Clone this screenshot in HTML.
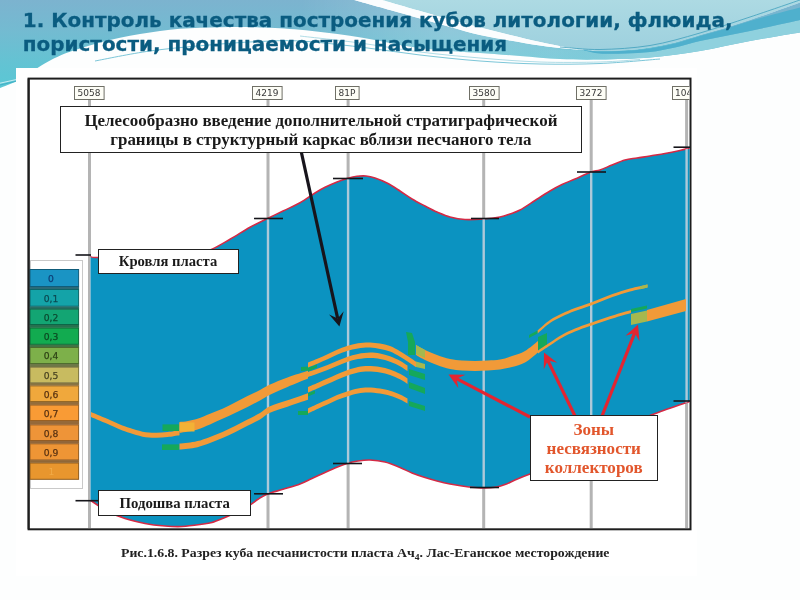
<!DOCTYPE html>
<html lang="ru">
<head>
<meta charset="utf-8">
<title>1. Контроль качества построения кубов литологии, флюида, пористости, проницаемости и насыщения</title>
<style>
html,body{margin:0;padding:0;}
body{width:800px;height:600px;overflow:hidden;background:#fdfefe;position:relative;font-family:"Liberation Sans",sans-serif;}
#bg{position:absolute;left:0;top:0;width:800px;height:600px;}
#title{position:absolute;left:22.8px;top:8px;margin:0;font:bold 19.96px/24px "DejaVu Sans","Liberation Sans",sans-serif;color:#0a5c80;white-space:nowrap;-webkit-text-stroke:0.3px #0a5c80;}
#panel{position:absolute;left:16px;top:68px;width:681px;height:508px;background:#fff;}
#chart{position:absolute;left:0;top:0;width:800px;height:600px;}
.lbl{position:absolute;box-sizing:border-box;background:#fff;border:1px solid #222;font-family:"Liberation Serif",serif;font-weight:bold;color:#1a1a1a;text-align:center;white-space:nowrap;}
#note{left:60px;top:106px;width:522px;height:47px;font-size:16.2px;line-height:18.9px;padding-top:5.1px;}
.lbl span{display:inline-block;transform:scaleX(1.047);transform-origin:center;}
#roof{left:98px;top:249px;width:141px;height:25px;font-size:14px;line-height:24px;}
#floor{left:98px;top:490px;width:153px;height:26px;font-size:14.1px;line-height:25px;}
#zones{left:530px;top:415px;width:128px;height:66px;font-size:16.3px;line-height:19px;padding-top:4px;color:#e2562c;}
#caption{position:absolute;left:121px;top:544.5px;margin:0;font:bold 13px/16px "Liberation Serif",serif;color:#222;white-space:nowrap;transform:scaleX(1.06);transform-origin:left center;}
#caption sub{font-size:9px;vertical-align:-3px;line-height:0;}
</style>
</head>
<body>
<svg id="bg" width="800" height="600" viewBox="0 0 800 600">
  <defs>
    <linearGradient id="gA" gradientUnits="userSpaceOnUse" x1="0" y1="0" x2="0" y2="90">
      <stop offset="0" stop-color="#7cb3cf"/>
      <stop offset="0.35" stop-color="#73bbd1"/>
      <stop offset="0.7" stop-color="#63c3d3"/>
      <stop offset="1" stop-color="#59c8d5"/>
    </linearGradient>
    <linearGradient id="gD" gradientUnits="userSpaceOnUse" x1="530" y1="0" x2="640" y2="0">
      <stop offset="0" stop-color="#8fd1de" stop-opacity="0"/>
      <stop offset="1" stop-color="#8fd1de" stop-opacity="1"/>
    </linearGradient>
    <linearGradient id="gC" gradientUnits="userSpaceOnUse" x1="300" y1="0" x2="600" y2="0">
      <stop offset="0" stop-color="#ffffff" stop-opacity="0"/>
      <stop offset="0.5" stop-color="#ffffff" stop-opacity="0.2"/>
      <stop offset="0.85" stop-color="#ffffff" stop-opacity="0.15"/>
      <stop offset="1" stop-color="#ffffff" stop-opacity="0"/>
    </linearGradient>
    <linearGradient id="gB" gradientUnits="userSpaceOnUse" x1="0" y1="0" x2="0" y2="52">
      <stop offset="0" stop-color="#addae3"/>
      <stop offset="1" stop-color="#9dd0de"/>
    </linearGradient>
  </defs>
  <rect width="800" height="600" fill="#fdfefe"/>
<path d="M382.0,0.0 C388.3,1.8 408.7,7.8 420.0,11.0 C431.3,14.2 440.0,16.8 450.0,19.5 C460.0,22.2 470.0,24.9 480.0,27.5 C490.0,30.1 500.0,32.6 510.0,35.0 C520.0,37.4 530.8,40.0 540.0,42.0 C549.2,44.0 557.7,45.7 565.0,47.0 C572.3,48.3 580.8,49.5 584.0,50.0  L584.0,50.0 C586.7,50.2 593.2,51.0 600.0,51.0 C606.8,51.0 616.7,50.9 625.0,50.3 C633.3,49.7 641.7,48.8 650.0,47.5 C658.3,46.2 666.7,44.6 675.0,42.5 C683.3,40.4 691.7,37.4 700.0,35.0 C708.3,32.6 716.7,30.5 725.0,28.0 C733.3,25.5 741.7,22.8 750.0,20.0 C758.3,17.2 766.7,14.4 775.0,11.5 C783.3,8.6 795.8,4.0 800.0,2.5 L800,0 Z" fill="url(#gB)"/>
<path d="M0,0 L354,0  L354.0,0.0 C360.0,1.7 379.0,6.9 390.0,10.0 C401.0,13.1 410.0,15.7 420.0,18.5 C430.0,21.3 440.0,24.2 450.0,27.0 C460.0,29.8 470.0,32.8 480.0,35.0 C490.0,37.2 500.0,38.8 510.0,40.5 C520.0,42.2 530.8,44.2 540.0,45.5 C549.2,46.8 557.7,47.8 565.0,48.5 C572.3,49.2 580.8,49.8 584.0,50.0  L584.0,50.0 C586.7,50.2 593.2,51.0 600.0,51.0 C606.8,51.0 616.7,50.9 625.0,50.3 C633.3,49.7 641.7,48.8 650.0,47.5 C658.3,46.2 666.7,44.6 675.0,42.5 C683.3,40.4 691.7,37.4 700.0,35.0 C708.3,32.6 716.7,30.5 725.0,28.0 C733.3,25.5 741.7,22.8 750.0,20.0 C758.3,17.2 766.7,14.4 775.0,11.5 C783.3,8.6 795.8,4.0 800.0,2.5 L800,32.5  L800.0,32.5 C791.7,33.9 766.7,37.9 750.0,41.0 C733.3,44.1 716.7,48.2 700.0,51.0 C683.3,53.8 666.7,56.1 650.0,57.5 C633.3,58.9 615.0,59.2 600.0,59.5 C585.0,59.8 573.3,59.6 560.0,59.0 C546.7,58.4 533.3,57.0 520.0,56.0 C506.7,55.0 491.7,53.8 480.0,53.0 C468.3,52.2 459.2,51.8 450.0,51.0 C440.8,50.2 433.3,49.5 425.0,48.5 C416.7,47.5 408.3,46.4 400.0,45.0 C391.7,43.6 383.3,41.5 375.0,40.0 C366.7,38.5 358.3,37.0 350.0,35.8 C341.7,34.5 333.3,33.5 325.0,32.5 C316.7,31.5 307.5,30.5 300.0,29.8 C292.5,29.1 286.7,28.6 280.0,28.2 C273.3,27.8 266.7,27.6 260.0,27.4 C253.3,27.2 246.7,27.0 240.0,27.0 C233.3,27.0 226.7,27.2 220.0,27.3 C213.3,27.4 206.7,27.6 200.0,27.8 C193.3,28.1 186.7,28.3 180.0,28.8 C173.3,29.3 166.7,30.1 160.0,31.0 C153.3,31.9 146.7,32.9 140.0,34.0 C133.3,35.1 126.7,36.4 120.0,37.8 C113.3,39.2 106.7,40.7 100.0,42.5 C93.3,44.3 85.8,46.7 80.0,48.5 C74.2,50.3 69.8,51.6 65.0,53.5 C60.2,55.4 55.3,57.8 51.0,60.0 C46.7,62.2 42.5,64.8 39.0,67.0 C35.5,69.2 33.7,70.7 30.0,73.0 C26.3,75.3 22.0,78.5 17.0,81.0 C12.0,83.5 2.8,86.8 0.0,88.0 Z" fill="url(#gA)"/>
<path d="M0,0 L354,0  L354.0,0.0 C360.0,1.7 379.0,6.9 390.0,10.0 C401.0,13.1 410.0,15.7 420.0,18.5 C430.0,21.3 440.0,24.2 450.0,27.0 C460.0,29.8 470.0,32.8 480.0,35.0 C490.0,37.2 500.0,38.8 510.0,40.5 C520.0,42.2 530.8,44.2 540.0,45.5 C549.2,46.8 557.7,47.8 565.0,48.5 C572.3,49.2 580.8,49.8 584.0,50.0  L584.0,50.0 C586.7,50.2 593.2,51.0 600.0,51.0 C606.8,51.0 616.7,50.9 625.0,50.3 C633.3,49.7 641.7,48.8 650.0,47.5 C658.3,46.2 666.7,44.6 675.0,42.5 C683.3,40.4 691.7,37.4 700.0,35.0 C708.3,32.6 716.7,30.5 725.0,28.0 C733.3,25.5 741.7,22.8 750.0,20.0 C758.3,17.2 766.7,14.4 775.0,11.5 C783.3,8.6 795.8,4.0 800.0,2.5 L800,32.5  L800.0,32.5 C791.7,33.9 766.7,37.9 750.0,41.0 C733.3,44.1 716.7,48.2 700.0,51.0 C683.3,53.8 666.7,56.1 650.0,57.5 C633.3,58.9 615.0,59.2 600.0,59.5 C585.0,59.8 573.3,59.6 560.0,59.0 C546.7,58.4 533.3,57.0 520.0,56.0 C506.7,55.0 491.7,53.8 480.0,53.0 C468.3,52.2 459.2,51.8 450.0,51.0 C440.8,50.2 433.3,49.5 425.0,48.5 C416.7,47.5 408.3,46.4 400.0,45.0 C391.7,43.6 383.3,41.5 375.0,40.0 C366.7,38.5 358.3,37.0 350.0,35.8 C341.7,34.5 333.3,33.5 325.0,32.5 C316.7,31.5 307.5,30.5 300.0,29.8 C292.5,29.1 286.7,28.6 280.0,28.2 C273.3,27.8 266.7,27.6 260.0,27.4 C253.3,27.2 246.7,27.0 240.0,27.0 C233.3,27.0 226.7,27.2 220.0,27.3 C213.3,27.4 206.7,27.6 200.0,27.8 C193.3,28.1 186.7,28.3 180.0,28.8 C173.3,29.3 166.7,30.1 160.0,31.0 C153.3,31.9 146.7,32.9 140.0,34.0 C133.3,35.1 126.7,36.4 120.0,37.8 C113.3,39.2 106.7,40.7 100.0,42.5 C93.3,44.3 85.8,46.7 80.0,48.5 C74.2,50.3 69.8,51.6 65.0,53.5 C60.2,55.4 55.3,57.8 51.0,60.0 C46.7,62.2 42.5,64.8 39.0,67.0 C35.5,69.2 33.7,70.7 30.0,73.0 C26.3,75.3 22.0,78.5 17.0,81.0 C12.0,83.5 2.8,86.8 0.0,88.0 Z" fill="url(#gC)"/>
<path d="M520.0,50.0 C526.7,50.0 549.3,49.9 560.0,50.0 C570.7,50.1 577.3,49.9 584.0,50.5 C590.7,51.1 593.2,53.0 600.0,53.5 C606.8,54.0 616.7,53.8 625.0,53.5 C633.3,53.2 641.7,53.0 650.0,52.0 C658.3,51.0 666.7,49.3 675.0,47.5 C683.3,45.7 691.7,42.9 700.0,41.0 C708.3,39.1 716.7,37.7 725.0,36.0 C733.3,34.3 741.7,32.8 750.0,31.0 C758.3,29.2 766.7,27.3 775.0,25.5 C783.3,23.7 795.8,20.9 800.0,20.0  L800.0,32.5 C791.7,33.9 766.7,37.9 750.0,41.0 C733.3,44.1 716.7,48.2 700.0,51.0 C683.3,53.8 666.7,56.1 650.0,57.5 C633.3,58.9 615.0,59.2 600.0,59.5 C585.0,59.8 573.3,59.6 560.0,59.0 C546.7,58.4 526.7,56.5 520.0,56.0 Z" fill="url(#gD)"/>
<path d="M584.0,50.0 C586.7,50.2 593.2,51.4 600.0,51.5 C606.8,51.6 616.7,51.3 625.0,50.8 C633.3,50.3 641.7,49.7 650.0,48.5 C658.3,47.3 666.7,45.6 675.0,43.5 C683.3,41.4 691.7,38.4 700.0,36.0 C708.3,33.6 716.7,31.5 725.0,29.0 C733.3,26.5 741.7,23.5 750.0,21.0 C758.3,18.5 766.7,16.2 775.0,14.0 C783.3,11.8 795.8,8.6 800.0,7.5  L800.0,20.0 C795.8,20.9 783.3,23.7 775.0,25.5 C766.7,27.3 758.3,29.2 750.0,31.0 C741.7,32.8 733.3,34.3 725.0,36.0 C716.7,37.7 708.3,39.1 700.0,41.0 C691.7,42.9 683.3,45.7 675.0,47.5 C666.7,49.3 658.3,51.0 650.0,52.0 C641.7,53.0 633.3,53.2 625.0,53.5 C616.7,53.8 606.8,54.0 600.0,53.5 C593.2,53.0 586.7,51.0 584.0,50.5 Z" fill="#4fb0cd"/>
<path d="M382.0,0.0 C388.3,1.8 408.7,7.8 420.0,11.0 C431.3,14.2 440.0,16.8 450.0,19.5 C460.0,22.2 470.0,24.9 480.0,27.5 C490.0,30.1 500.0,32.6 510.0,35.0 C520.0,37.4 530.8,40.0 540.0,42.0 C549.2,44.0 557.7,45.7 565.0,47.0 C572.3,48.3 580.8,49.5 584.0,50.0  L584.0,50.0 C580.8,49.8 572.3,49.2 565.0,48.5 C557.7,47.8 549.2,46.8 540.0,45.5 C530.8,44.2 520.0,42.2 510.0,40.5 C500.0,38.8 490.0,37.2 480.0,35.0 C470.0,32.8 460.0,29.8 450.0,27.0 C440.0,24.2 430.0,21.3 420.0,18.5 C410.0,15.7 401.0,13.1 390.0,10.0 C379.0,6.9 360.0,1.7 354.0,0.0 Z" fill="#fbfdfe"/>
<path d="M95.0,61.0 C104.2,59.3 130.0,53.8 150.0,51.0 C170.0,48.2 196.7,46.1 215.0,44.5 C233.3,42.9 245.8,42.1 260.0,41.5 C274.2,40.9 283.3,40.1 300.0,41.0 C316.7,41.9 340.0,44.7 360.0,47.0 C380.0,49.3 400.0,52.7 420.0,55.0 C440.0,57.3 460.0,59.5 480.0,61.0 C500.0,62.5 520.0,63.6 540.0,64.0 C560.0,64.4 580.0,64.3 600.0,63.5 C620.0,62.7 650.0,59.8 660.0,59.0" fill="none" stroke="#7cc6d8" stroke-width="1"/>
<path d="M300.0,36.0 C310.0,37.2 340.0,40.3 360.0,43.0 C380.0,45.7 400.0,49.5 420.0,52.0 C440.0,54.5 460.0,56.3 480.0,58.0 C500.0,59.7 520.0,61.3 540.0,62.0 C560.0,62.7 583.3,62.4 600.0,62.0 C616.7,61.6 633.3,59.9 640.0,59.5" fill="none" stroke="#9ad3e0" stroke-width="0.8"/>
<path d="M560.0,47.0 C566.7,47.4 585.0,49.8 600.0,49.5 C615.0,49.2 633.3,48.2 650.0,45.5 C666.7,42.8 683.3,37.8 700.0,33.0 C716.7,28.2 733.3,22.5 750.0,17.0 C766.7,11.5 791.7,2.8 800.0,0.0" fill="none" stroke="#3f9fbd" stroke-width="0.8"/>
<path d="M0,85 L16,81.3" fill="none" stroke="#3aa9c2" stroke-width="0.8"/>
<path d="M0,83.2 L16,79.6" fill="none" stroke="#e8f7fa" stroke-width="0.9" opacity="0.85"/>
</svg>
<h1 id="title">1. Контроль качества построения кубов литологии, флюида,<br>пористости, проницаемости и насыщения</h1>
<div id="panel"></div>
<svg id="chart" width="800" height="600" viewBox="0 0 800 600">
<rect x="28.6" y="78.6" width="661.9" height="450.7" fill="#fff" stroke="#1e1e1e" stroke-width="2"/>
<clipPath id="fc"><rect x="29.6" y="79.6" width="659.9" height="448.7"/></clipPath>
<g clip-path="url(#fc)">
<rect x="88.0" y="92" width="3" height="436" fill="#b4b4b4"/>
<rect x="266.5" y="92" width="3" height="436" fill="#b4b4b4"/>
<rect x="346.6" y="92" width="3" height="436" fill="#b4b4b4"/>
<rect x="482.2" y="92" width="3" height="436" fill="#b4b4b4"/>
<rect x="589.7" y="92" width="3" height="436" fill="#b4b4b4"/>
<rect x="685.1" y="92" width="3" height="436" fill="#b4b4b4"/>
<path d="M90.0,256.0 C91.3,256.2 88.0,257.5 98.0,257.5 C108.0,257.5 133.8,256.9 150.0,256.0 C166.2,255.1 185.0,253.0 195.0,252.0 C205.0,251.0 204.2,252.1 210.0,250.0 C215.8,247.9 223.3,243.1 230.0,239.3 C236.7,235.5 243.8,230.6 250.0,227.2 C256.2,223.8 261.5,221.5 267.0,218.8 C272.5,216.1 277.5,213.7 283.0,211.0 C288.5,208.3 294.7,205.8 300.0,202.8 C305.3,199.8 310.8,195.6 315.0,193.0 C319.2,190.4 321.3,189.1 325.0,187.3 C328.7,185.5 333.3,183.5 337.0,182.0 C340.7,180.5 343.7,179.4 347.0,178.5 C350.3,177.6 353.8,176.7 357.0,176.3 C360.2,175.9 363.0,175.7 366.0,176.0 C369.0,176.3 371.5,176.8 375.0,178.0 C378.5,179.2 382.8,180.8 387.0,183.0 C391.2,185.2 395.8,188.3 400.0,191.0 C404.2,193.7 407.8,196.5 412.0,199.0 C416.2,201.5 420.8,203.8 425.0,206.0 C429.2,208.2 432.8,210.2 437.0,212.0 C441.2,213.8 445.3,215.8 450.0,217.0 C454.7,218.2 459.5,219.2 465.0,219.5 C470.5,219.8 477.2,219.4 483.0,219.0 C488.8,218.6 495.5,217.8 500.0,217.0 C504.5,216.2 506.7,215.2 510.0,214.0 C513.3,212.8 515.8,212.2 520.0,210.0 C524.2,207.8 530.0,203.7 535.0,200.5 C540.0,197.3 545.5,193.7 550.0,191.0 C554.5,188.3 557.8,186.5 562.0,184.5 C566.2,182.5 570.2,181.1 575.0,179.0 C579.8,176.9 586.8,173.5 591.0,172.0 C595.2,170.5 596.5,171.2 600.0,170.0 C603.5,168.8 607.8,166.7 612.0,165.0 C616.2,163.3 620.8,161.2 625.0,160.0 C629.2,158.8 632.8,158.7 637.0,158.0 C641.2,157.3 645.3,156.8 650.0,156.0 C654.7,155.2 660.0,154.4 665.0,153.5 C670.0,152.6 675.8,151.4 680.0,150.5 C684.2,149.6 688.3,148.4 690.0,148.0 L690.0,401.5 C689.2,401.8 687.5,402.2 685.0,403.0 C682.5,403.8 678.8,405.2 675.0,406.5 C671.2,407.8 666.2,409.5 662.0,411.0 C657.8,412.5 653.7,413.9 650.0,415.5 C646.3,417.1 645.0,417.9 640.0,420.5 C635.0,423.1 626.7,427.2 620.0,431.0 C613.3,434.8 606.7,439.2 600.0,443.0 C593.3,446.8 586.7,450.6 580.0,454.0 C573.3,457.4 565.8,460.9 560.0,463.5 C554.2,466.1 550.0,467.8 545.0,469.5 C540.0,471.2 535.0,472.2 530.0,474.0 C525.0,475.8 519.2,478.2 515.0,480.0 C510.8,481.8 508.3,483.3 505.0,484.5 C501.7,485.7 498.3,486.7 495.0,487.3 C491.7,487.9 488.3,488.0 485.0,488.0 C481.7,488.0 478.8,487.8 475.0,487.5 C471.2,487.2 466.2,486.6 462.0,486.0 C457.8,485.4 454.2,484.8 450.0,484.0 C445.8,483.2 441.2,482.1 437.0,481.0 C432.8,479.9 429.2,478.8 425.0,477.5 C420.8,476.2 416.2,474.7 412.0,473.0 C407.8,471.3 404.5,469.3 400.0,467.5 C395.5,465.7 390.0,463.2 385.0,462.0 C380.0,460.8 374.5,460.2 370.0,460.0 C365.5,459.8 361.8,460.4 358.0,461.0 C354.2,461.6 350.8,462.3 347.0,463.5 C343.2,464.7 338.7,466.5 335.0,468.0 C331.3,469.5 328.8,470.8 325.0,472.5 C321.2,474.2 316.2,476.6 312.0,478.5 C307.8,480.4 304.8,482.2 300.0,484.0 C295.2,485.8 288.4,487.6 283.0,489.3 C277.6,491.0 271.7,492.3 267.5,494.0 C263.3,495.7 260.9,497.5 258.0,499.3 C255.1,501.1 253.5,502.9 250.0,505.0 C246.5,507.1 241.2,509.9 237.0,512.0 C232.8,514.1 229.2,515.8 225.0,517.5 C220.8,519.2 216.2,521.3 212.0,522.5 C207.8,523.7 205.0,523.8 200.0,524.5 C195.0,525.2 187.8,526.2 182.0,526.5 C176.2,526.8 171.2,526.5 165.0,526.0 C158.8,525.5 151.7,524.8 145.0,523.5 C138.3,522.2 131.3,520.6 125.0,518.5 C118.7,516.4 112.8,514.1 107.0,511.0 C101.2,507.9 92.8,501.8 90.0,500.0 Z" fill="#0b93c1"/>
<path d="M90.0,256.0 C91.3,256.2 88.0,257.5 98.0,257.5 C108.0,257.5 133.8,256.9 150.0,256.0 C166.2,255.1 185.0,253.0 195.0,252.0 C205.0,251.0 204.2,252.1 210.0,250.0 C215.8,247.9 223.3,243.1 230.0,239.3 C236.7,235.5 243.8,230.6 250.0,227.2 C256.2,223.8 261.5,221.5 267.0,218.8 C272.5,216.1 277.5,213.7 283.0,211.0 C288.5,208.3 294.7,205.8 300.0,202.8 C305.3,199.8 310.8,195.6 315.0,193.0 C319.2,190.4 321.3,189.1 325.0,187.3 C328.7,185.5 333.3,183.5 337.0,182.0 C340.7,180.5 343.7,179.4 347.0,178.5 C350.3,177.6 353.8,176.7 357.0,176.3 C360.2,175.9 363.0,175.7 366.0,176.0 C369.0,176.3 371.5,176.8 375.0,178.0 C378.5,179.2 382.8,180.8 387.0,183.0 C391.2,185.2 395.8,188.3 400.0,191.0 C404.2,193.7 407.8,196.5 412.0,199.0 C416.2,201.5 420.8,203.8 425.0,206.0 C429.2,208.2 432.8,210.2 437.0,212.0 C441.2,213.8 445.3,215.8 450.0,217.0 C454.7,218.2 459.5,219.2 465.0,219.5 C470.5,219.8 477.2,219.4 483.0,219.0 C488.8,218.6 495.5,217.8 500.0,217.0 C504.5,216.2 506.7,215.2 510.0,214.0 C513.3,212.8 515.8,212.2 520.0,210.0 C524.2,207.8 530.0,203.7 535.0,200.5 C540.0,197.3 545.5,193.7 550.0,191.0 C554.5,188.3 557.8,186.5 562.0,184.5 C566.2,182.5 570.2,181.1 575.0,179.0 C579.8,176.9 586.8,173.5 591.0,172.0 C595.2,170.5 596.5,171.2 600.0,170.0 C603.5,168.8 607.8,166.7 612.0,165.0 C616.2,163.3 620.8,161.2 625.0,160.0 C629.2,158.8 632.8,158.7 637.0,158.0 C641.2,157.3 645.3,156.8 650.0,156.0 C654.7,155.2 660.0,154.4 665.0,153.5 C670.0,152.6 675.8,151.4 680.0,150.5 C684.2,149.6 688.3,148.4 690.0,148.0" fill="none" stroke="#d42a45" stroke-width="1.6"/>
<path d="M690.0,401.5 C689.2,401.8 687.5,402.2 685.0,403.0 C682.5,403.8 678.8,405.2 675.0,406.5 C671.2,407.8 666.2,409.5 662.0,411.0 C657.8,412.5 653.7,413.9 650.0,415.5 C646.3,417.1 645.0,417.9 640.0,420.5 C635.0,423.1 626.7,427.2 620.0,431.0 C613.3,434.8 606.7,439.2 600.0,443.0 C593.3,446.8 586.7,450.6 580.0,454.0 C573.3,457.4 565.8,460.9 560.0,463.5 C554.2,466.1 550.0,467.8 545.0,469.5 C540.0,471.2 535.0,472.2 530.0,474.0 C525.0,475.8 519.2,478.2 515.0,480.0 C510.8,481.8 508.3,483.3 505.0,484.5 C501.7,485.7 498.3,486.7 495.0,487.3 C491.7,487.9 488.3,488.0 485.0,488.0 C481.7,488.0 478.8,487.8 475.0,487.5 C471.2,487.2 466.2,486.6 462.0,486.0 C457.8,485.4 454.2,484.8 450.0,484.0 C445.8,483.2 441.2,482.1 437.0,481.0 C432.8,479.9 429.2,478.8 425.0,477.5 C420.8,476.2 416.2,474.7 412.0,473.0 C407.8,471.3 404.5,469.3 400.0,467.5 C395.5,465.7 390.0,463.2 385.0,462.0 C380.0,460.8 374.5,460.2 370.0,460.0 C365.5,459.8 361.8,460.4 358.0,461.0 C354.2,461.6 350.8,462.3 347.0,463.5 C343.2,464.7 338.7,466.5 335.0,468.0 C331.3,469.5 328.8,470.8 325.0,472.5 C321.2,474.2 316.2,476.6 312.0,478.5 C307.8,480.4 304.8,482.2 300.0,484.0 C295.2,485.8 288.4,487.6 283.0,489.3 C277.6,491.0 271.7,492.3 267.5,494.0 C263.3,495.7 260.9,497.5 258.0,499.3 C255.1,501.1 253.5,502.9 250.0,505.0 C246.5,507.1 241.2,509.9 237.0,512.0 C232.8,514.1 229.2,515.8 225.0,517.5 C220.8,519.2 216.2,521.3 212.0,522.5 C207.8,523.7 205.0,523.8 200.0,524.5 C195.0,525.2 187.8,526.2 182.0,526.5 C176.2,526.8 171.2,526.5 165.0,526.0 C158.8,525.5 151.7,524.8 145.0,523.5 C138.3,522.2 131.3,520.6 125.0,518.5 C118.7,516.4 112.8,514.1 107.0,511.0 C101.2,507.9 92.8,501.8 90.0,500.0" fill="none" stroke="#d42a45" stroke-width="1.6"/>
<clipPath id="bc"><path d="M90.0,256.0 C91.3,256.2 88.0,257.5 98.0,257.5 C108.0,257.5 133.8,256.9 150.0,256.0 C166.2,255.1 185.0,253.0 195.0,252.0 C205.0,251.0 204.2,252.1 210.0,250.0 C215.8,247.9 223.3,243.1 230.0,239.3 C236.7,235.5 243.8,230.6 250.0,227.2 C256.2,223.8 261.5,221.5 267.0,218.8 C272.5,216.1 277.5,213.7 283.0,211.0 C288.5,208.3 294.7,205.8 300.0,202.8 C305.3,199.8 310.8,195.6 315.0,193.0 C319.2,190.4 321.3,189.1 325.0,187.3 C328.7,185.5 333.3,183.5 337.0,182.0 C340.7,180.5 343.7,179.4 347.0,178.5 C350.3,177.6 353.8,176.7 357.0,176.3 C360.2,175.9 363.0,175.7 366.0,176.0 C369.0,176.3 371.5,176.8 375.0,178.0 C378.5,179.2 382.8,180.8 387.0,183.0 C391.2,185.2 395.8,188.3 400.0,191.0 C404.2,193.7 407.8,196.5 412.0,199.0 C416.2,201.5 420.8,203.8 425.0,206.0 C429.2,208.2 432.8,210.2 437.0,212.0 C441.2,213.8 445.3,215.8 450.0,217.0 C454.7,218.2 459.5,219.2 465.0,219.5 C470.5,219.8 477.2,219.4 483.0,219.0 C488.8,218.6 495.5,217.8 500.0,217.0 C504.5,216.2 506.7,215.2 510.0,214.0 C513.3,212.8 515.8,212.2 520.0,210.0 C524.2,207.8 530.0,203.7 535.0,200.5 C540.0,197.3 545.5,193.7 550.0,191.0 C554.5,188.3 557.8,186.5 562.0,184.5 C566.2,182.5 570.2,181.1 575.0,179.0 C579.8,176.9 586.8,173.5 591.0,172.0 C595.2,170.5 596.5,171.2 600.0,170.0 C603.5,168.8 607.8,166.7 612.0,165.0 C616.2,163.3 620.8,161.2 625.0,160.0 C629.2,158.8 632.8,158.7 637.0,158.0 C641.2,157.3 645.3,156.8 650.0,156.0 C654.7,155.2 660.0,154.4 665.0,153.5 C670.0,152.6 675.8,151.4 680.0,150.5 C684.2,149.6 688.3,148.4 690.0,148.0 L690.0,401.5 C689.2,401.8 687.5,402.2 685.0,403.0 C682.5,403.8 678.8,405.2 675.0,406.5 C671.2,407.8 666.2,409.5 662.0,411.0 C657.8,412.5 653.7,413.9 650.0,415.5 C646.3,417.1 645.0,417.9 640.0,420.5 C635.0,423.1 626.7,427.2 620.0,431.0 C613.3,434.8 606.7,439.2 600.0,443.0 C593.3,446.8 586.7,450.6 580.0,454.0 C573.3,457.4 565.8,460.9 560.0,463.5 C554.2,466.1 550.0,467.8 545.0,469.5 C540.0,471.2 535.0,472.2 530.0,474.0 C525.0,475.8 519.2,478.2 515.0,480.0 C510.8,481.8 508.3,483.3 505.0,484.5 C501.7,485.7 498.3,486.7 495.0,487.3 C491.7,487.9 488.3,488.0 485.0,488.0 C481.7,488.0 478.8,487.8 475.0,487.5 C471.2,487.2 466.2,486.6 462.0,486.0 C457.8,485.4 454.2,484.8 450.0,484.0 C445.8,483.2 441.2,482.1 437.0,481.0 C432.8,479.9 429.2,478.8 425.0,477.5 C420.8,476.2 416.2,474.7 412.0,473.0 C407.8,471.3 404.5,469.3 400.0,467.5 C395.5,465.7 390.0,463.2 385.0,462.0 C380.0,460.8 374.5,460.2 370.0,460.0 C365.5,459.8 361.8,460.4 358.0,461.0 C354.2,461.6 350.8,462.3 347.0,463.5 C343.2,464.7 338.7,466.5 335.0,468.0 C331.3,469.5 328.8,470.8 325.0,472.5 C321.2,474.2 316.2,476.6 312.0,478.5 C307.8,480.4 304.8,482.2 300.0,484.0 C295.2,485.8 288.4,487.6 283.0,489.3 C277.6,491.0 271.7,492.3 267.5,494.0 C263.3,495.7 260.9,497.5 258.0,499.3 C255.1,501.1 253.5,502.9 250.0,505.0 C246.5,507.1 241.2,509.9 237.0,512.0 C232.8,514.1 229.2,515.8 225.0,517.5 C220.8,519.2 216.2,521.3 212.0,522.5 C207.8,523.7 205.0,523.8 200.0,524.5 C195.0,525.2 187.8,526.2 182.0,526.5 C176.2,526.8 171.2,526.5 165.0,526.0 C158.8,525.5 151.7,524.8 145.0,523.5 C138.3,522.2 131.3,520.6 125.0,518.5 C118.7,516.4 112.8,514.1 107.0,511.0 C101.2,507.9 92.8,501.8 90.0,500.0 Z"/></clipPath>
<g clip-path="url(#bc)">
<rect x="88.3" y="92" width="2.4" height="436" fill="#adc9d9"/>
<rect x="266.8" y="92" width="2.4" height="436" fill="#adc9d9"/>
<rect x="346.9" y="92" width="2.4" height="436" fill="#adc9d9"/>
<rect x="482.5" y="92" width="2.4" height="436" fill="#adc9d9"/>
<rect x="590.0" y="92" width="2.4" height="436" fill="#adc9d9"/>
<rect x="685.4" y="92" width="2.4" height="436" fill="#adc9d9"/>
</g>
<g id="bands">
<path d="M91.0,412.0 C92.5,412.6 96.7,414.4 100.0,415.8 C103.3,417.2 107.7,419.1 111.0,420.5 C114.3,421.9 116.8,423.2 120.0,424.5 C123.2,425.8 126.2,426.9 130.0,428.1 C133.8,429.3 138.3,430.9 142.5,431.7 C146.7,432.5 150.8,432.7 155.0,432.8 C159.2,432.9 163.4,432.5 167.5,432.1 C171.6,431.7 177.5,430.6 179.5,430.3 L179.5,435.3 C177.5,435.6 171.6,436.7 167.5,437.1 C163.4,437.5 159.2,437.9 155.0,437.8 C150.8,437.7 146.7,437.5 142.5,436.7 C138.3,435.9 133.8,434.3 130.0,433.1 C126.2,431.9 123.2,430.8 120.0,429.5 C116.8,428.2 114.3,426.9 111.0,425.5 C107.7,424.1 103.3,422.2 100.0,420.8 C96.7,419.4 92.5,417.6 91.0,417.0 Z" fill="#f19a38"/>
<path d="M179.5,422.0 C180.9,421.8 185.0,421.6 188.0,421.0 C191.0,420.4 193.8,419.9 197.5,418.7 C201.2,417.5 205.8,415.4 210.0,413.7 C214.2,412.0 218.3,410.6 222.5,408.7 C226.7,406.8 230.8,404.6 235.0,402.5 C239.2,400.4 243.3,398.1 247.5,396.0 C251.7,393.9 256.2,391.9 260.0,390.0 C263.8,388.1 265.4,386.7 270.0,384.6 C274.6,382.5 281.2,379.8 287.5,377.5 C293.8,375.2 304.6,371.9 308.0,370.8 L308.0,378.6 C304.6,380.0 293.8,384.3 287.5,387.0 C281.2,389.7 274.6,392.6 270.0,394.8 C265.4,397.1 263.8,398.5 260.0,400.5 C256.2,402.5 251.7,404.9 247.5,407.0 C243.3,409.1 239.2,411.0 235.0,413.0 C230.8,415.0 226.7,416.9 222.5,418.8 C218.3,420.7 214.2,422.6 210.0,424.4 C205.8,426.2 201.2,428.2 197.5,429.4 C193.8,430.6 191.0,431.0 188.0,431.6 C185.0,432.2 180.9,432.8 179.5,433.0 Z" fill="#f19a38"/>
<rect x="179.5" y="422.5" width="15" height="9" fill="#f2b236"/>
<rect x="162.5" y="424.4" width="16.5" height="6.6" fill="#15a85a"/>
<path d="M179.5,443.6 C180.9,443.5 185.0,443.2 188.0,442.8 C191.0,442.4 193.8,442.1 197.5,441.1 C201.2,440.2 205.8,438.5 210.0,436.9 C214.2,435.4 218.3,433.7 222.5,431.9 C226.7,430.1 230.8,428.1 235.0,426.1 C239.2,424.0 243.3,421.7 247.5,419.6 C251.7,417.4 256.2,415.2 260.0,413.0 C263.8,410.8 265.4,408.4 270.0,406.3 C274.6,404.2 281.2,402.4 287.5,400.3 C293.8,398.1 304.6,394.4 308.0,393.2 L308.0,399.8 C304.6,400.9 293.8,404.6 287.5,406.7 C281.2,408.9 274.6,410.6 270.0,412.7 C265.4,414.8 263.8,417.2 260.0,419.4 C256.2,421.6 251.7,423.7 247.5,425.8 C243.3,428.0 239.2,430.3 235.0,432.3 C230.8,434.4 226.7,436.3 222.5,438.1 C218.3,439.9 214.2,441.6 210.0,443.1 C205.8,444.6 201.2,446.3 197.5,447.2 C193.8,448.2 191.0,448.4 188.0,448.8 C185.0,449.2 180.9,449.5 179.5,449.6 Z" fill="#f19a38"/>
<rect x="162" y="444.4" width="17" height="5.6" fill="#15a85a"/>
<path d="M308.0,362.6 C309.7,361.9 314.8,359.9 318.0,358.6 C321.2,357.2 324.3,355.8 327.5,354.3 C330.7,352.9 333.8,351.2 337.0,349.8 C340.2,348.4 343.5,346.9 347.0,345.9 C350.5,344.8 354.2,343.8 358.0,343.2 C361.8,342.6 366.3,342.3 370.0,342.4 C373.7,342.5 376.7,343.0 380.0,343.6 C383.3,344.3 386.7,344.8 390.0,346.1 C393.3,347.4 397.0,349.6 400.0,351.3 C403.0,353.0 405.3,354.5 408.0,356.2 C410.7,358.0 414.7,360.8 416.0,361.7 L416.0,367.3 C414.7,366.4 410.7,363.5 408.0,361.8 C405.3,360.0 403.0,358.4 400.0,356.7 C397.0,355.0 393.3,352.8 390.0,351.5 C386.7,350.2 383.3,349.6 380.0,349.0 C376.7,348.3 373.7,347.7 370.0,347.6 C366.3,347.5 361.8,347.8 358.0,348.4 C354.2,348.9 350.5,349.9 347.0,350.9 C343.5,352.0 340.2,353.4 337.0,354.8 C333.8,356.2 330.7,357.8 327.5,359.3 C324.3,360.7 321.2,362.1 318.0,363.4 C314.8,364.8 309.7,366.7 308.0,367.4 Z" fill="#f19a38"/>
<path d="M308.0,371.9 C309.7,371.3 314.8,369.6 318.0,368.4 C321.2,367.2 324.3,366.1 327.5,364.9 C330.7,363.6 333.8,362.2 337.0,360.9 C340.2,359.5 343.5,358.0 347.0,356.9 C350.5,355.7 354.2,354.6 358.0,353.9 C361.8,353.1 366.3,352.7 370.0,352.6 C373.7,352.6 376.7,353.0 380.0,353.6 C383.3,354.2 386.7,355.1 390.0,356.3 C393.3,357.5 397.1,359.3 400.0,360.8 C402.9,362.4 406.2,364.8 407.5,365.6 L407.5,371.0 C406.2,370.2 402.9,367.7 400.0,366.2 C397.1,364.6 393.3,362.9 390.0,361.7 C386.7,360.5 383.3,359.6 380.0,359.0 C376.7,358.4 373.7,357.9 370.0,358.0 C366.3,358.0 361.8,358.5 358.0,359.1 C354.2,359.8 350.5,361.0 347.0,362.1 C343.5,363.3 340.2,364.8 337.0,366.1 C333.8,367.5 330.7,368.9 327.5,370.1 C324.3,371.4 321.2,372.4 318.0,373.6 C314.8,374.8 309.7,376.5 308.0,377.1 Z" fill="#f19a38"/>
<path d="M308.0,387.0 C309.7,386.3 314.8,384.2 318.0,382.8 C321.2,381.4 324.3,380.0 327.5,378.6 C330.7,377.2 333.8,375.7 337.0,374.3 C340.2,372.9 343.5,371.5 347.0,370.3 C350.5,369.1 354.5,367.8 358.0,367.1 C361.5,366.4 364.3,366.1 368.0,366.1 C371.7,366.1 376.3,366.5 380.0,367.1 C383.7,367.7 386.7,368.4 390.0,369.5 C393.3,370.6 397.1,372.3 400.0,373.8 C402.9,375.3 406.2,377.7 407.5,378.5 L407.5,383.9 C406.2,383.1 402.9,380.7 400.0,379.2 C397.1,377.7 393.3,376.0 390.0,374.9 C386.7,373.8 383.7,373.1 380.0,372.5 C376.3,371.9 371.7,371.5 368.0,371.5 C364.3,371.5 361.5,371.8 358.0,372.5 C354.5,373.2 350.5,374.5 347.0,375.7 C343.5,376.9 340.2,378.3 337.0,379.7 C333.8,381.1 330.7,382.6 327.5,384.0 C324.3,385.4 321.2,386.8 318.0,388.2 C314.8,389.6 309.7,391.7 308.0,392.4 Z" fill="#f19a38"/>
<path d="M308.0,408.5 C309.7,407.7 314.8,405.3 318.0,403.8 C321.2,402.3 324.3,400.9 327.5,399.5 C330.7,398.1 333.8,396.4 337.0,395.1 C340.2,393.8 343.5,392.6 347.0,391.5 C350.5,390.4 354.5,389.2 358.0,388.5 C361.5,387.8 364.3,387.5 368.0,387.5 C371.7,387.5 376.3,388.0 380.0,388.5 C383.7,389.0 386.7,389.7 390.0,390.7 C393.3,391.7 397.1,393.2 400.0,394.5 C402.9,395.8 406.2,397.8 407.5,398.5 L407.5,403.5 C406.2,402.8 402.9,400.8 400.0,399.5 C397.1,398.2 393.3,396.7 390.0,395.7 C386.7,394.7 383.7,394.0 380.0,393.5 C376.3,393.0 371.7,392.5 368.0,392.5 C364.3,392.5 361.5,392.8 358.0,393.5 C354.5,394.2 350.5,395.4 347.0,396.5 C343.5,397.6 340.2,398.8 337.0,400.1 C333.8,401.4 330.7,403.1 327.5,404.5 C324.3,405.9 321.2,407.3 318.0,408.8 C314.8,410.3 309.7,412.7 308.0,413.5 Z" fill="#f19a38"/>
<polygon points="298.0,411.0 308.0,411.0 308.0,415.0 298.0,415.0" fill="#15a85a"/>
<polygon points="301.0,367.0 308.0,366.5 308.0,370.5 301.0,371.0" fill="#15a85a"/>
<polygon points="308.0,368.0 317.0,364.5 317.0,367.5 308.0,371.5" fill="#15a85a"/>
<polygon points="308.0,393.2 315.0,390.5 315.0,393.5 308.0,396.5" fill="#15a85a"/>
<polygon points="406.0,332.0 412.0,333.0 415.0,342.0 415.0,355.0 408.0,355.0 408.0,342.0" fill="#15a85a"/>
<polygon points="416.0,361.5 425.0,364.0 425.0,369.0 416.0,367.0" fill="#a6b84e"/>
<polygon points="409.0,369.0 425.0,374.0 425.0,380.0 409.0,375.0" fill="#15a85a"/>
<polygon points="409.0,382.0 425.0,388.0 425.0,394.0 409.0,388.0" fill="#15a85a"/>
<polygon points="409.0,401.0 425.0,406.0 425.0,411.0 409.0,406.0" fill="#15a85a"/>
<path d="M416.0,345.0 C417.5,345.8 421.5,348.3 425.0,350.0 C428.5,351.7 432.8,353.5 437.0,355.0 C441.2,356.5 445.8,358.1 450.0,359.0 C454.2,359.9 457.8,360.2 462.0,360.5 C466.2,360.8 470.7,361.0 475.0,361.0 C479.3,361.0 483.8,360.8 488.0,360.5 C492.2,360.2 496.0,360.2 500.0,359.5 C504.0,358.8 507.8,357.4 512.0,356.0 C516.2,354.6 520.7,353.5 525.0,351.0 C529.3,348.5 535.8,342.7 538.0,341.0 L538.0,352.5 C535.8,354.2 529.3,360.1 525.0,362.5 C520.7,364.9 516.2,365.8 512.0,367.0 C507.8,368.2 504.0,368.9 500.0,369.5 C496.0,370.1 492.2,370.2 488.0,370.5 C483.8,370.8 479.3,371.0 475.0,371.0 C470.7,371.0 466.2,370.8 462.0,370.5 C457.8,370.2 454.2,369.9 450.0,369.0 C445.8,368.1 441.2,366.5 437.0,365.0 C432.8,363.5 428.5,361.7 425.0,360.0 C421.5,358.3 417.5,355.8 416.0,355.0 Z" fill="#f19a38"/>
<polygon points="416.0,345.0 425.0,350.0 425.0,358.0 416.0,354.0" fill="#a6b84e"/>
<polygon points="538.0,337.0 547.0,333.0 547.0,346.0 538.0,350.0" fill="#15a85a"/>
<path d="M537.5,330.5 C539.6,328.8 545.9,322.8 550.0,320.0 C554.1,317.2 557.8,315.5 562.0,313.5 C566.2,311.5 570.2,309.8 575.0,308.0 C579.8,306.2 584.8,304.8 591.0,302.5 C597.2,300.2 606.0,296.3 612.5,294.0 C619.0,291.7 624.2,290.1 630.0,288.5 C635.8,286.9 644.6,285.2 647.5,284.5 L647.5,287.5 C644.6,288.2 635.8,289.9 630.0,291.5 C624.2,293.1 619.0,294.7 612.5,297.0 C606.0,299.3 597.2,303.2 591.0,305.5 C584.8,307.8 579.8,309.2 575.0,311.0 C570.2,312.8 566.2,314.5 562.0,316.5 C557.8,318.5 554.1,320.2 550.0,323.0 C545.9,325.8 539.6,331.8 537.5,333.5 Z" fill="#f19a38"/>
<polygon points="529.0,335.0 537.5,330.5 537.5,333.5 529.0,338.0" fill="#15a85a"/>
<polygon points="640.0,286.3 647.5,284.5 647.5,287.5 640.0,289.3" fill="#a6b84e"/>
<path d="M538.0,350.5 C540.0,349.2 545.9,345.2 550.0,342.5 C554.1,339.8 558.3,336.8 562.5,334.5 C566.7,332.2 570.4,330.4 575.0,328.5 C579.6,326.6 583.8,325.2 590.0,323.0 C596.2,320.8 605.7,317.7 612.5,315.5 C619.3,313.3 627.9,310.9 631.0,310.0 L631.0,313.0 C627.9,313.9 619.3,316.3 612.5,318.5 C605.7,320.7 596.2,323.8 590.0,326.0 C583.8,328.2 579.6,329.6 575.0,331.5 C570.4,333.4 566.7,335.2 562.5,337.5 C558.3,339.8 554.1,342.8 550.0,345.5 C545.9,348.2 540.0,352.2 538.0,353.5 Z" fill="#f19a38"/>
<polygon points="631.0,309.0 647.0,305.5 647.0,308.5 631.0,312.0" fill="#15a85a"/>
<polygon points="631.0,314.0 647.0,310.5 647.0,321.5 631.0,325.0" fill="#a6b84e"/>
<polygon points="647.0,310.0 686.0,299.0 686.0,311.0 647.0,321.5" fill="#f19a38"/>
</g>
</g>
<line x1="75.5" y1="255.0" x2="91.0" y2="255.0" stroke="#15151a" stroke-width="1.6"/>
<line x1="254.0" y1="218.5" x2="283.0" y2="218.5" stroke="#15151a" stroke-width="1.6"/>
<line x1="333.0" y1="178.5" x2="363.0" y2="178.5" stroke="#15151a" stroke-width="1.6"/>
<line x1="471.0" y1="218.5" x2="499.0" y2="218.5" stroke="#15151a" stroke-width="1.6"/>
<line x1="577.0" y1="172.0" x2="606.0" y2="172.0" stroke="#15151a" stroke-width="1.6"/>
<line x1="673.5" y1="147.2" x2="690.0" y2="147.2" stroke="#15151a" stroke-width="1.6"/>
<line x1="75.5" y1="500.7" x2="98.0" y2="500.7" stroke="#15151a" stroke-width="1.6"/>
<line x1="254.0" y1="493.8" x2="283.0" y2="493.8" stroke="#15151a" stroke-width="1.6"/>
<line x1="333.0" y1="463.5" x2="362.0" y2="463.5" stroke="#15151a" stroke-width="1.6"/>
<line x1="470.0" y1="487.5" x2="499.0" y2="487.5" stroke="#15151a" stroke-width="1.6"/>
<line x1="673.5" y1="401.0" x2="690.0" y2="401.0" stroke="#15151a" stroke-width="1.6"/>
<rect x="30.5" y="260.5" width="52" height="228" fill="#fff" stroke="#c9c9c9" stroke-width="1"/>
<rect x="29.6" y="286.7" width="49.5" height="2.6" fill="#2a6a77"/>
<rect x="29.6" y="306.4" width="49.5" height="2.6" fill="#286e63"/>
<rect x="29.6" y="324.7" width="49.5" height="3.1" fill="#27704e"/>
<rect x="29.6" y="344.5" width="49.5" height="2.8" fill="#427344"/>
<rect x="29.6" y="363.7" width="49.5" height="3.3" fill="#6d7748"/>
<rect x="29.6" y="383.0" width="49.5" height="2.7" fill="#897544"/>
<rect x="29.6" y="401.7" width="49.5" height="3.2" fill="#956d3a"/>
<rect x="29.6" y="420.7" width="49.5" height="4.0" fill="#956939"/>
<rect x="29.6" y="440.7" width="49.5" height="2.9" fill="#926639"/>
<rect x="29.6" y="460.1" width="49.5" height="2.7" fill="#906737"/>
<rect x="30" y="269.5" width="48.6" height="17.0" fill="#1a94c4" stroke="#105c7a" stroke-width="1"/>
<text x="51" y="281.8" text-anchor="middle" font-family="DejaVu Sans, Liberation Sans, sans-serif" font-size="9.2" fill="#0d3f78" stroke="#0d3f78" stroke-width="0.25">0</text>
<rect x="30" y="289.5" width="48.6" height="16.7" fill="#14a3a8" stroke="#0c6568" stroke-width="1"/>
<text x="51" y="301.7" text-anchor="middle" font-family="DejaVu Sans, Liberation Sans, sans-serif" font-size="9.2" fill="#0b4a52" stroke="#0b4a52" stroke-width="0.25">0,1</text>
<rect x="30" y="309.2" width="48.6" height="15.3" fill="#13a573" stroke="#0c6647" stroke-width="1"/>
<text x="51" y="320.7" text-anchor="middle" font-family="DejaVu Sans, Liberation Sans, sans-serif" font-size="9.2" fill="#0c4a30" stroke="#0c4a30" stroke-width="0.25">0,2</text>
<rect x="30" y="328.0" width="48.6" height="16.3" fill="#12ab50" stroke="#0b6a32" stroke-width="1"/>
<text x="51" y="339.9" text-anchor="middle" font-family="DejaVu Sans, Liberation Sans, sans-serif" font-size="9.2" fill="#0c4a22" stroke="#0c4a22" stroke-width="0.25">0,3</text>
<rect x="30" y="347.5" width="48.6" height="16.0" fill="#7db04a" stroke="#4e6d2e" stroke-width="1"/>
<text x="51" y="359.3" text-anchor="middle" font-family="DejaVu Sans, Liberation Sans, sans-serif" font-size="9.2" fill="#2f4416" stroke="#2f4416" stroke-width="0.25">0,4</text>
<rect x="30" y="367.2" width="48.6" height="15.6" fill="#c8bb60" stroke="#7c743c" stroke-width="1"/>
<text x="51" y="378.8" text-anchor="middle" font-family="DejaVu Sans, Liberation Sans, sans-serif" font-size="9.2" fill="#4b4522" stroke="#4b4522" stroke-width="0.25">0,5</text>
<rect x="30" y="385.9" width="48.6" height="15.6" fill="#f0a83c" stroke="#956825" stroke-width="1"/>
<text x="51" y="397.5" text-anchor="middle" font-family="DejaVu Sans, Liberation Sans, sans-serif" font-size="9.2" fill="#5a3312" stroke="#5a3312" stroke-width="0.25">0,6</text>
<rect x="30" y="405.1" width="48.6" height="15.4" fill="#f99b35" stroke="#9a6021" stroke-width="1"/>
<text x="51" y="416.6" text-anchor="middle" font-family="DejaVu Sans, Liberation Sans, sans-serif" font-size="9.2" fill="#5a3312" stroke="#5a3312" stroke-width="0.25">0,7</text>
<rect x="30" y="424.9" width="48.6" height="15.6" fill="#ee9438" stroke="#945c23" stroke-width="1"/>
<text x="51" y="436.5" text-anchor="middle" font-family="DejaVu Sans, Liberation Sans, sans-serif" font-size="9.2" fill="#5a3312" stroke="#5a3312" stroke-width="0.25">0,8</text>
<rect x="30" y="443.8" width="48.6" height="16.1" fill="#ee9535" stroke="#945c21" stroke-width="1"/>
<text x="51" y="455.7" text-anchor="middle" font-family="DejaVu Sans, Liberation Sans, sans-serif" font-size="9.2" fill="#5a3312" stroke="#5a3312" stroke-width="0.25">0,9</text>
<rect x="30" y="463.0" width="48.6" height="16.3" fill="#e8962e" stroke="#905d1d" stroke-width="1"/>
<text x="51.5" y="474.6" text-anchor="middle" font-family="DejaVu Sans, Liberation Sans, sans-serif" font-size="9.2" fill="#f1ab47">1</text>
<line x1="28.6" y1="78.6" x2="28.6" y2="529.3" stroke="#1e1e1e" stroke-width="2"/>
<rect x="74.5" y="86.5" width="29.6" height="13" fill="#fdfdf6" stroke="#6f6f66" stroke-width="1"/>
<text x="89.0" y="96.3" text-anchor="middle" font-family="DejaVu Sans, Liberation Sans, sans-serif" font-size="9" fill="#383838">5058</text>
<rect x="252.5" y="86.5" width="29.6" height="13" fill="#fdfdf6" stroke="#6f6f66" stroke-width="1"/>
<text x="267.0" y="96.3" text-anchor="middle" font-family="DejaVu Sans, Liberation Sans, sans-serif" font-size="9" fill="#383838">4219</text>
<rect x="335.5" y="86.5" width="23.6" height="13" fill="#fdfdf6" stroke="#6f6f66" stroke-width="1"/>
<text x="347.0" y="96.3" text-anchor="middle" font-family="DejaVu Sans, Liberation Sans, sans-serif" font-size="9" fill="#383838">81P</text>
<rect x="469.5" y="86.5" width="29.6" height="13" fill="#fdfdf6" stroke="#6f6f66" stroke-width="1"/>
<text x="484.0" y="96.3" text-anchor="middle" font-family="DejaVu Sans, Liberation Sans, sans-serif" font-size="9" fill="#383838">3580</text>
<rect x="576.5" y="86.5" width="29.6" height="13" fill="#fdfdf6" stroke="#6f6f66" stroke-width="1"/>
<text x="591.0" y="96.3" text-anchor="middle" font-family="DejaVu Sans, Liberation Sans, sans-serif" font-size="9" fill="#383838">3272</text>
<g clip-path="url(#fc)"><rect x="672.5" y="86.5" width="30" height="13" fill="#fdfdf6" stroke="#6f6f66" stroke-width="1"/>
<text x="675.0" y="96.3" font-family="DejaVu Sans, Liberation Sans, sans-serif" font-size="9" fill="#383838">104</text></g>
<line x1="301.3" y1="152.0" x2="337.7" y2="318.6" stroke="#17141c" stroke-width="3.2"/><polygon points="339.4,326.5 329.1,314.4 337.7,318.6 343.7,311.2" fill="#17141c"/>
<line x1="530.0" y1="417.0" x2="456.5" y2="378.7" stroke="#e32531" stroke-width="3.2"/><polygon points="448.5,374.5 465.3,374.8 456.5,378.7 458.3,388.1" fill="#e32531"/>
<line x1="575.0" y1="416.0" x2="547.9" y2="360.6" stroke="#e32531" stroke-width="3.2"/><polygon points="544.0,352.5 557.3,362.7 547.9,360.6 543.8,369.3" fill="#e32531"/>
<line x1="602.0" y1="416.0" x2="634.7" y2="332.9" stroke="#e32531" stroke-width="3.2"/><polygon points="638.0,324.5 639.5,341.2 634.7,332.9 625.5,335.7" fill="#e32531"/>
</svg>
<div class="lbl" id="note"><span>Целесообразно введение дополнительной стратиграфической<br>границы в структурный каркас вблизи песчаного тела</span></div>
<div class="lbl" id="roof"><span>Кровля пласта</span></div>
<div class="lbl" id="floor"><span>Подошва пласта</span></div>
<div class="lbl" id="zones"><span>Зоны<br>несвязности<br>коллекторов</span></div>
<p id="caption">Рис.1.6.8. Разрез куба песчанистости пласта Ач<sub>4</sub>. Лас-Еганское месторождение</p>
</body>
</html>
